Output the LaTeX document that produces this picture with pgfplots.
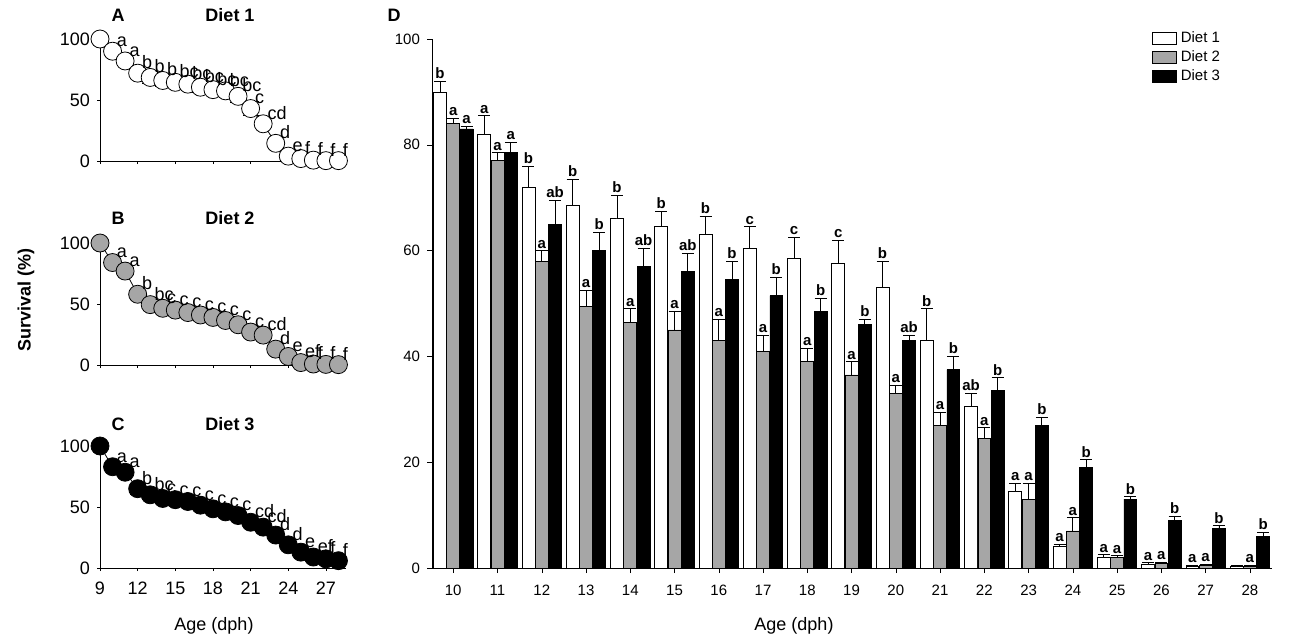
\documentclass[border=0pt]{standalone}
\usepackage{pgfplots}
\pgfplotsset{compat=1.18}
\usepackage{pgfplotstable}
\usepackage{fontspec}
\setmainfont{Liberation Sans}
\definecolor{dgray}{HTML}{A6A6A6}
\pgfplotstableread{
x  d1   e1  l1  d2   e2  l2  d3   e3  l3  m1 m2 m3
9  100  0   {}  100  0   {}  100  0   {}  {} {} {}
10 90   2   b   84   1   a   83   0.5 a   a  a  a
11 82   3.5 a   77   1.5 a   78.5 2   a   a  a  a
12 72   4   b   58   2   a   65   4.5 ab  b  b  b
13 68.5 5   b   49.5 3   a   60   3.5 b   b  bc bc
14 66   4.5 b   46.5 2.5 a   57   3.5 ab  b  c  c
15 64.5 3   b   45   3.5 a   56   3.5 ab  bc c  c
16 63   3.5 b   43   4   a   54.5 3.5 b   bc c  c
17 60.5 4   c   41   3   a   51.5 3.5 b   bc c  c
18 58.5 4   c   39   2.5 a   48.5 2.5 b   bc c  c
19 57.5 4.5 c   36.5 2.5 a   46   1   b   bc c  c
20 53   5   b   33   1.5 a   43   1   ab  bc c  c
21 43   6   b   27   2.5 a   37.5 2.5 b   c  c  cd
22 30.5 2.5 ab  24.5 2   a   33.5 2.5 b   cd cd cd
23 14.5 1.5 a   13   3   a   27   1.5 b   d  d  d
24 4    0.5 a   7    2.5 a   19   1.5 b   e  e  d
25 2    0.5 a   2    0.3 a   13   0.5 b   f  ef e
26 0.7  0.3 a   0.8  0.3 a   9    0.8 b   f  f  ef
27 0.3  0.2 a   0.5  0.2 a   7.5  0.5 b   f  f  f
28 0.3  0.2 {}  0.3  0.2 a   6    0.8 b   f  f  f
}\data
\pgfplotsset{
 small/.style={scale only axis, width=123pt, height=61pt, xmin=9, xmax=28.6, ymin=0, ymax=100,
   axis x line=bottom, axis y line=left, axis line style={-}, clip=false,
   ytick={0,50,100}, xtick={9,12,...,27}, tick align=outside, major tick length=1.5pt,
   tick label style={font=\fontsize{9}{10}\selectfont}, /pgf/number format/assume math mode=true,
   xticklabel style={yshift=-2pt},
   tick style={black}},
 lets/.style={draw=none, mark=none, nodes near coords, point meta=explicit symbolic, nodes near coords style={font=\fontsize{9}{10}\selectfont, anchor=south west, inner sep=0.5pt, xshift=1.5pt, yshift=1.5pt}},
 ebar/.style={error bars/.cd, y dir=both, y explicit, error mark options={rotate=90, mark size=4pt}},
}
\begin{document}
\begin{tikzpicture}
\useasboundingbox (0,0) rectangle (646pt,-319pt);
\tikzset{lab/.style={font=\bfseries\fontsize{9}{10}\selectfont}}
\node[lab] at (59pt,-7.5pt) {A};
\node[lab] at (115pt,-7.5pt) {Diet 1};
\node[lab] at (59pt,-109pt) {B};
\node[lab] at (115pt,-109pt) {Diet 2};
\node[lab] at (59pt,-212pt) {C};
\node[lab] at (115pt,-212pt) {Diet 3};
\node[lab] at (197pt,-7.5pt) {D};
\node[lab, rotate=90] at (13pt,-150pt) {Survival (\%)};
\node[font=\fontsize{9}{10}\selectfont] at (107pt,-313pt) {Age (dph)};
\node[font=\fontsize{9}{10}\selectfont] at (397pt,-313pt) {Age (dph)};
% A
\begin{axis}[small, at={(50pt,-80.5pt)}, anchor=origin, xticklabels={}]
\addplot[black, mark=*, mark size=4.5pt, mark options={fill=white}, ebar] table[x=x, y=d1, y error=e1] {\data};
\addplot[lets] table[x=x, y=d1, meta=m1] {\data};
\end{axis}
% B
\begin{axis}[small, at={(50pt,-182.5pt)}, anchor=origin, xticklabels={}]
\addplot[black, mark=*, mark size=4.5pt, mark options={fill=dgray}, ebar] table[x=x, y=d2, y error=e2] {\data};
\addplot[lets] table[x=x, y=d2, meta=m2] {\data};
\end{axis}
% C
\begin{axis}[small, at={(50pt,-284pt)}, anchor=origin]
\addplot[black, mark=*, mark size=4.5pt, mark options={fill=black}, ebar] table[x=x, y=d3, y error=e3] {\data};
\addplot[lets] table[x=x, y=d3, meta=m3] {\data};
\end{axis}
% D
\begin{axis}[scale only axis, width=420pt, height=264.5pt, at={(216pt,-284pt)}, anchor=origin,
  xmin=9.52, xmax=28.5, ymin=0, ymax=100, axis x line=bottom, axis y line=left, axis line style={-},
  xtick={10,...,28}, ytick={0,20,...,100}, tick align=outside, major tick length=2.5pt, tick style={black},
  tick label style={font=\fontsize{7.5}{8}\selectfont}, /pgf/number format/assume math mode=true,
  xticklabel style={yshift=-2.5pt},
  legend style={at={(0.9,1.03)}, anchor=north, draw=none, fill=none, font=\fontsize{7.5}{8}\selectfont, row sep=-1.5pt},
  legend image code/.code={\draw[#1] (0pt,-3pt) rectangle (12pt,3pt);},
  nodes near coords style={font=\bfseries\fontsize{7.5}{8}\selectfont, anchor=south, inner sep=1pt}]
\addplot[ybar, bar width=0.29, bar shift=0, fill=white, draw=black, error bars/.cd, y dir=plus, y explicit, error mark options={rotate=90, mark size=3pt}] table[x expr=\thisrow{x}-0.3, y=d1, y error=e1] {\data};
\addplot[ybar, bar width=0.29, bar shift=0, fill=dgray, draw=black, error bars/.cd, y dir=plus, y explicit, error mark options={rotate=90, mark size=3pt}] table[x=x, y=d2, y error=e2] {\data};
\addplot[ybar, bar width=0.29, bar shift=0, fill=black, draw=black, error bars/.cd, y dir=plus, y explicit, error mark options={rotate=90, mark size=3pt}] table[x expr=\thisrow{x}+0.3, y=d3, y error=e3] {\data};
\legend{Diet 1, Diet 2, Diet 3}
\addplot[draw=none, mark=none, forget plot, nodes near coords, point meta=explicit symbolic] table[x expr=\thisrow{x}-0.3, y expr=\thisrow{d1}+\thisrow{e1}, meta=l1] {\data};
\addplot[draw=none, mark=none, forget plot, nodes near coords, point meta=explicit symbolic] table[x expr=\thisrow{x}, y expr=\thisrow{d2}+\thisrow{e2}, meta=l2] {\data};
\addplot[draw=none, mark=none, forget plot, nodes near coords, point meta=explicit symbolic] table[x expr=\thisrow{x}+0.3, y expr=\thisrow{d3}+\thisrow{e3}, meta=l3] {\data};
\end{axis}
\end{tikzpicture}
\end{document}
